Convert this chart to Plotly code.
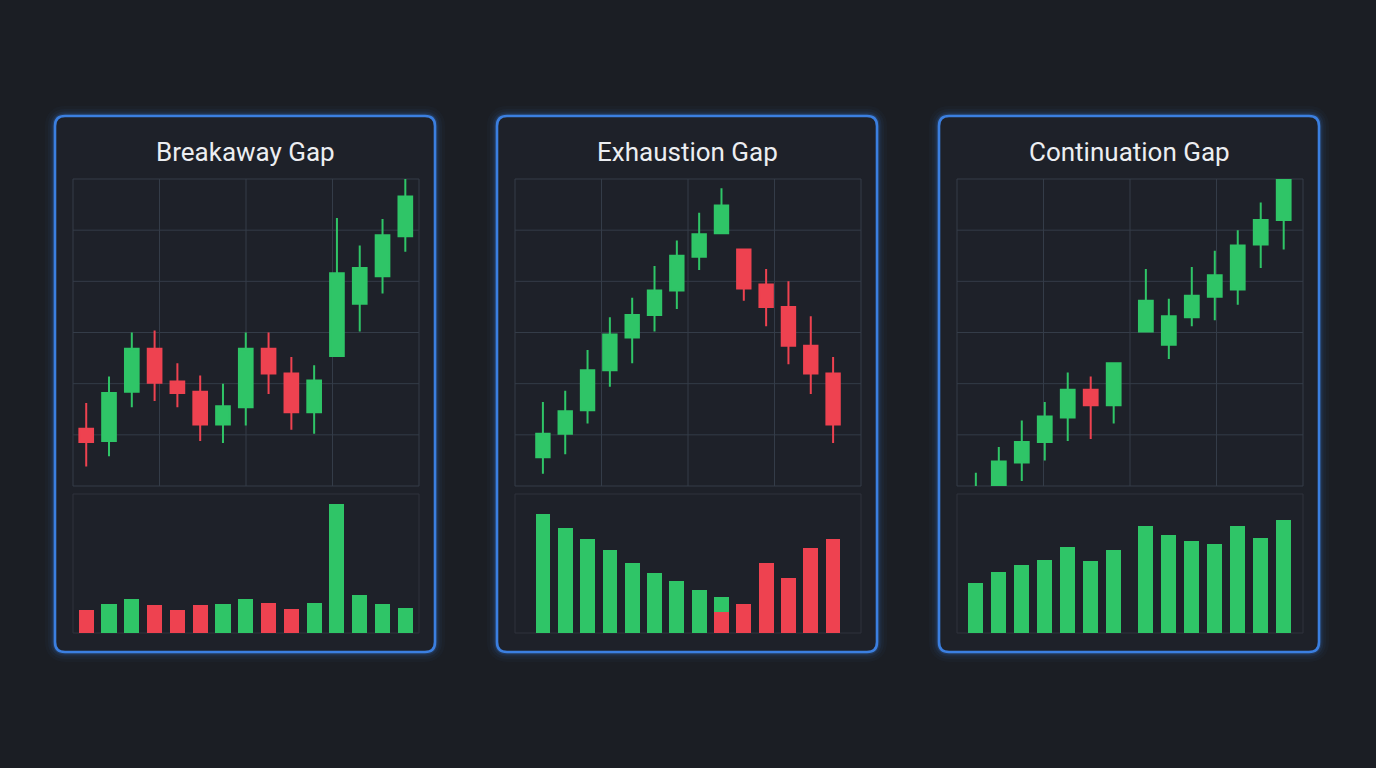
import plotly.graph_objects as go

W, H = 1376, 768
BG = '#1b1e24'
PANEL = '#1e2129'
GREEN = '#2fc567'
RED = '#ee4250'
GRID = '#343c48'
BLUE = '#3b7fe0'
TITLE_COLOR = '#eceef1'

titles = ['Breakaway Gap', 'Exhaustion Gap', 'Continuation Gap']

# ---- Breakaway Gap ----
br_x = list(range(15))
br_open = [95.6, 94.4, 99.2, 103.4, 100.2, 99.2, 96.0, 97.7, 103.4, 101.0, 97.2, 102.7, 107.8, 110.5, 114.4]
br_high = [98.1, 100.7, 105.0, 105.2, 102.0, 100.8, 100.0, 105.0, 105.0, 102.6, 101.8, 116.2, 113.5, 116.1, 120.0]
br_low = [91.9, 92.9, 97.7, 98.3, 97.7, 94.4, 94.2, 95.9, 99.0, 95.5, 95.1, 102.6, 105.1, 108.8, 112.9]
br_close = [94.3, 99.1, 103.4, 100.1, 99.1, 96.0, 97.8, 103.4, 101.0, 97.2, 100.3, 110.8, 111.3, 114.5, 118.3]
br_vol = [16.8, 21.1, 24.7, 20.4, 16.5, 20.4, 20.9, 24.7, 21.6, 17.3, 21.8, 92.8, 27.6, 21.1, 17.7]
br_vol_dir = ['down', 'up', 'up', 'down', 'down', 'down', 'up', 'up', 'down', 'down', 'up', 'up', 'up', 'up', 'up']

# ---- Exhaustion Gap ----
ex_x = list(range(14))
ex_open = [92.8, 95.1, 97.4, 101.3, 104.5, 106.7, 109.1, 112.4, 114.7, 113.1, 109.7, 107.5, 103.7, 101.0]
ex_high = [98.2, 99.3, 103.3, 106.5, 108.4, 111.5, 114.0, 116.7, 119.1, 113.1, 111.2, 110.0, 106.6, 102.6]
ex_low = [91.2, 93.1, 96.1, 99.7, 102.0, 105.1, 107.3, 111.1, 114.6, 108.1, 105.6, 101.9, 99.0, 94.2]
ex_close = [95.1, 97.3, 101.3, 104.8, 106.7, 109.1, 112.5, 114.6, 117.4, 109.3, 107.5, 103.7, 101.0, 96.0]
ex_vol_down = [0, 0, 0, 0, 0, 0, 0, 0, 14.9, 21.1, 50.6, 39.3, 61.4, 67.9]
ex_vol_up = [85.9, 75.5, 67.9, 59.7, 50.6, 43.4, 37.2, 31.2, 11.0, 0, 0, 0, 0, 0]

# ---- Continuation Gap ----
co_x = [0, 1, 2, 3, 4, 5, 6, 7.4, 8.4, 9.4, 10.4, 11.4, 12.4, 13.4]
co_open = [88.0, 89.6, 92.3, 94.3, 96.7, 99.4, 97.9, 105.1, 103.8, 106.5, 108.5, 109.2, 113.6, 116.0]
co_high = [91.3, 93.8, 96.4, 98.2, 101.1, 100.7, 102.0, 111.2, 108.3, 111.4, 113.0, 115.0, 117.7, 120.3]
co_low = [87.0, 89.0, 90.5, 92.5, 94.4, 94.6, 96.1, 105.0, 102.4, 105.6, 106.2, 107.7, 111.3, 113.1]
co_close = [89.7, 92.4, 94.3, 96.8, 99.4, 97.9, 102.0, 108.1, 106.6, 108.6, 110.6, 113.5, 116.0, 120.2]
co_vol = [36.0, 43.6, 49.2, 52.5, 61.9, 51.8, 60.0, 77.2, 70.7, 66.4, 63.8, 77.2, 68.6, 81.3]

price_range = [90, 120]
vol_range = [0, 100]

# layout geometry (pixels)
panel_left = [55, 497, 939]
panel_w = 380
panel_top, panel_bot = 116, 652
plot_left = [73, 515, 957]
plot_w = 346
price_top, price_bot = 179, 486
vol_top, vol_bot = 494, 633
x_ranges = [[-0.58, 14.6], [-1.25, 14.25], [-0.82, 14.24]]


def px(x):
    return x / W


def py(y):
    return 1 - y / H


def ax(n):
    return '' if n == 1 else str(n)


def rrect_path(x0, y0, x1, y1, r):
    pts = [
        ('M', [(x0 + r, y0)]), ('L', [(x1 - r, y0)]), ('Q', [(x1, y0), (x1, y0 + r)]),
        ('L', [(x1, y1 - r)]), ('Q', [(x1, y1), (x1 - r, y1)]), ('L', [(x0 + r, y1)]),
        ('Q', [(x0, y1), (x0, y1 - r)]), ('L', [(x0, y0 + r)]), ('Q', [(x0, y0), (x0 + r, y0)]),
    ]
    s = ''
    for cmd, ps in pts:
        s += cmd + ' ' + ' '.join('%.6f,%.6f' % (px(a), py(b)) for a, b in ps) + ' '
    return s + 'Z'


fig = go.Figure()

datasets = [
    (br_x, br_open, br_high, br_low, br_close),
    (ex_x, ex_open, ex_high, ex_low, ex_close),
    (co_x, co_open, co_high, co_low, co_close),
]

for i, (x, o, h, l, c) in enumerate(datasets):
    n = 2 * i + 1
    fig.add_trace(go.Candlestick(
        x=x, open=o, high=h, low=l, close=c,
        xaxis='x' + ax(n), yaxis='y' + ax(n), whiskerwidth=0,
        increasing=dict(line=dict(color=GREEN, width=2), fillcolor=GREEN),
        decreasing=dict(line=dict(color=RED, width=2), fillcolor=RED),
        showlegend=False, hoverinfo='skip',
    ))

# volume bars
fig.add_trace(go.Bar(x=br_x, y=br_vol, xaxis='x2', yaxis='y2',
                     marker=dict(color=[GREEN if d == 'up' else RED for d in br_vol_dir], line=dict(width=0)),
                     showlegend=False, hoverinfo='skip'))
fig.add_trace(go.Bar(x=ex_x, y=ex_vol_down, xaxis='x4', yaxis='y4',
                     marker=dict(color=RED, line=dict(width=0)), showlegend=False, hoverinfo='skip'))
fig.add_trace(go.Bar(x=ex_x, y=ex_vol_up, xaxis='x4', yaxis='y4',
                     marker=dict(color=GREEN, line=dict(width=0)), showlegend=False, hoverinfo='skip'))
fig.add_trace(go.Bar(x=co_x, y=co_vol, xaxis='x6', yaxis='y6',
                     marker=dict(color=GREEN, line=dict(width=0)), showlegend=False, hoverinfo='skip'))

layout = dict(
    width=W, height=H,
    margin=dict(l=0, r=0, t=0, b=0),
    paper_bgcolor=BG, plot_bgcolor='rgba(0,0,0,0)',
    boxgap=0.4, boxgroupgap=0, bargap=0.34, barmode='stack',
    showlegend=False,
)

hidden_axis = dict(showgrid=False, zeroline=False, showticklabels=False, ticks='', showline=False, fixedrange=True)

shapes = []
annotations = []
for i in range(3):
    xdom = [px(plot_left[i]), px(plot_left[i] + plot_w)]
    nx_p, nx_v = 2 * i + 1, 2 * i + 2
    layout['xaxis' + ax(nx_p)] = dict(hidden_axis, domain=xdom, range=x_ranges[i], anchor='y' + ax(nx_p),
                                      rangeslider=dict(visible=False))
    layout['yaxis' + ax(nx_p)] = dict(hidden_axis, domain=[py(price_bot), py(price_top)], range=price_range,
                                      anchor='x' + ax(nx_p))
    layout['xaxis' + ax(nx_v)] = dict(hidden_axis, domain=xdom, range=x_ranges[i], anchor='y' + ax(nx_v))
    layout['yaxis' + ax(nx_v)] = dict(hidden_axis, domain=[py(vol_bot), py(vol_top)], range=vol_range,
                                      anchor='x' + ax(nx_v))

    x0, x1 = panel_left[i], panel_left[i] + panel_w
    path = rrect_path(x0, panel_top, x1, panel_bot, 10)
    # glow
    for wdt, alpha in [(20, 0.03), (14, 0.05), (9, 0.09), (5, 0.18)]:
        shapes.append(dict(type='path', path=path, xref='paper', yref='paper', layer='below',
                           line=dict(color='rgba(59,127,224,%.3f)' % alpha, width=wdt)))
    shapes.append(dict(type='path', path=path, xref='paper', yref='paper', layer='below',
                       fillcolor=PANEL, line=dict(color=BLUE, width=2.6)))

    xr = 'x%s domain' % ax(nx_p)
    yr = 'y%s domain' % ax(nx_p)
    for k in range(1, 6):
        shapes.append(dict(type='line', xref=xr, yref=yr, x0=0, x1=1, y0=k / 6, y1=k / 6, layer='below',
                           line=dict(color=GRID, width=1)))
    for k in range(1, 4):
        shapes.append(dict(type='line', xref=xr, yref=yr, x0=k / 4, x1=k / 4, y0=0, y1=1, layer='below',
                           line=dict(color=GRID, width=1)))
    shapes.append(dict(type='rect', xref=xr, yref=yr, x0=0, x1=1, y0=0, y1=1, layer='below',
                       line=dict(color=GRID, width=1)))
    shapes.append(dict(type='rect', xref='x%s domain' % ax(nx_v), yref='y%s domain' % ax(nx_v),
                       x0=0, x1=1, y0=0, y1=1, layer='below', line=dict(color='#2e333c', width=1)))

    annotations.append(dict(text=titles[i], xref='paper', yref='paper', x=px((x0 + x1) / 2), y=py(152),
                            xanchor='center', yanchor='middle', showarrow=False,
                            font=dict(family='Roboto', size=26, weight=400, color=TITLE_COLOR)))

layout['shapes'] = shapes
layout['annotations'] = annotations
fig.update_layout(**layout)

fig.write_html('out.html', config=dict(displayModeBar=False))
